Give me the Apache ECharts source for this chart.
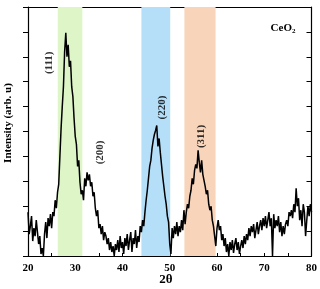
<!DOCTYPE html>
<html>
<head>
<meta charset="utf-8">
<script src="https://cdn.jsdelivr.net/npm/echarts@6/dist/echarts.min.js"></script>
<style>
  html, body { margin: 0; padding: 0; background: #fff; }
  #chart { width: 320px; height: 289px; }
</style>
</head>
<body>
<div id="chart"></div>
<script>
// XRD scan of CeO2 (intensity in arbitrary units)
const twoTheta = [
  20.00, 20.25, 20.50, 20.75, 21.00, 21.25, 21.50, 21.75, 22.00, 22.25, 22.50, 22.75,
  23.00, 23.25, 23.50, 23.75, 24.00, 24.25, 24.50, 24.75, 25.00, 25.25, 25.50, 25.75,
  26.00, 26.25, 26.50, 26.75, 27.00, 27.25, 27.50, 27.75, 28.00, 28.25, 28.50, 28.75,
  29.00, 29.25, 29.50, 29.75, 30.00, 30.25, 30.50, 30.75, 31.00, 31.25, 31.50, 31.75,
  32.00, 32.25, 32.50, 32.75, 33.00, 33.25, 33.50, 33.75, 34.00, 34.25, 34.50, 34.75,
  35.00, 35.25, 35.50, 35.75, 36.00, 36.25, 36.50, 36.75, 37.00, 37.25, 37.50, 37.75,
  38.00, 38.25, 38.50, 38.75, 39.00, 39.25, 39.50, 39.75, 40.00, 40.25, 40.50, 40.75,
  41.00, 41.25, 41.50, 41.75, 42.00, 42.25, 42.50, 42.75, 43.00, 43.25, 43.50, 43.75,
  44.00, 44.25, 44.50, 44.75, 45.00, 45.25, 45.50, 45.75, 46.00, 46.25, 46.50, 46.75,
  47.00, 47.25, 47.50, 47.75, 48.00, 48.25, 48.50, 48.75, 49.00, 49.25, 49.50, 49.75,
  50.00, 50.25, 50.50, 50.75, 51.00, 51.25, 51.50, 51.75, 52.00, 52.25, 52.50, 52.75,
  53.00, 53.25, 53.50, 53.75, 54.00, 54.25, 54.50, 54.75, 55.00, 55.25, 55.50, 55.75,
  56.00, 56.25, 56.50, 56.75, 57.00, 57.25, 57.50, 57.75, 58.00, 58.25, 58.50, 58.75,
  59.00, 59.25, 59.50, 59.75, 60.00, 60.25, 60.50, 60.75, 61.00, 61.25, 61.50, 61.75,
  62.00, 62.25, 62.50, 62.75, 63.00, 63.25, 63.50, 63.75, 64.00, 64.25, 64.50, 64.75,
  65.00, 65.25, 65.50, 65.75, 66.00, 66.25, 66.50, 66.75, 67.00, 67.25, 67.50, 67.75,
  68.00, 68.25, 68.50, 68.75, 69.00, 69.25, 69.50, 69.75, 70.00, 70.25, 70.50, 70.75,
  71.00, 71.25, 71.50, 71.75, 72.00, 72.25, 72.50, 72.75, 73.00, 73.25, 73.50, 73.75,
  74.00, 74.25, 74.50, 74.75, 75.00, 75.25, 75.50, 75.75, 76.00, 76.25, 76.50, 76.75,
  77.00, 77.25, 77.50, 77.75, 78.00, 78.25, 78.50, 78.75, 79.00, 79.25, 79.50, 79.75,
  80.00
];
const intensity = [
  44, 22, 30, 40, 15, 28, 20, 36, 24, 12, 20, 2,
  8, 0, 22, 34, 18, 38, 30, 42, 28, 44, 40, 56,
  48, 64, 72, 100, 128, 150, 170, 205, 224, 200, 212, 190,
  196, 170, 160, 138, 120, 112, 90, 96, 74, 62, 66, 56,
  78, 70, 84, 76, 82, 70, 74, 60, 64, 48, 40, 46,
  28, 32, 22, 30, 16, 24, 20, 12, 18, 6, 14, 4,
  10, 0, 12, 6, 16, 4, 20, 8, 14, 2, 18, 10,
  22, 6, 16, 24, 4, 18, 12, 26, 8, 20, 14, 30,
  24, 36, 30, 44, 56, 66, 78, 90, 96, 108, 116, 122,
  126, 131, 110, 118, 104, 92, 80, 70, 60, 52, 40, 34,
  12, 2, 28, 18, 30, 22, 34, 20, 30, 24, 36, 26,
  46, 32, 44, 52, 48, 60, 66, 78, 72, 86, 92, 88,
  106, 94, 84, 96, 82, 76, 70, 62, 66, 52, 46, 50,
  36, 30, 20, 10, 28, 36, 26, 30, 16, 22, 10, 18,
  4, 12, 0, 14, 6, 16, 3, 12, 18, 6, 14, 2,
  10, 16, 8, 20, 12, 22, 16, 28, 20, 30, 24, 32,
  18, 26, 34, 22, 30, 36, 26, 38, 30, 40, 28, 36,
  44, 30, 38, 0, 42, 28, 36, 30, 40, 24, 34, 20,
  30, 22, 32, 36, 30, 44, 40, 46, 38, 52, 44, 68,
  50, 58, 36, 46, 30, 52, 44, 20, 36, 50, 40, 52,
  44
];

// highlighted 2θ ranges around the reflections
const bandRanges = [[26.3, 31.5], [44.0, 50.1], [53.1, 59.7]];
const bandColors = ['#def5c8', '#b5dff9', '#f8d5ba'];

// Miller indices and where their labels sit (2θ, intensity)
const peakNames = ['(111)', '(200)', '(220)', '(311)'];
const peakLabelAt = [[24.4, 194], [35.3, 104], [48.3, 149], [56.7, 120]];

const xTicks = [20, 30, 40, 50, 60, 70, 80];

const FONT = '"Liberation Serif", "DejaVu Serif", serif';

const chart = echarts.init(document.getElementById('chart'), null, { renderer: 'canvas' });

chart.setOption({
  animation: false,
  backgroundColor: '#fff',
  grid: { left: 28, right: 6, top: 7, bottom: 33 },
  xAxis: [{
    type: 'value', min: 20, max: 80, interval: 5,
    axisLine: { lineStyle: { color: '#000', width: 1.2 } },
    axisTick: { inside: true, length: 3, lineStyle: { color: '#000' } },
    splitLine: { show: false },
    axisLabel: {
      margin: 7, color: '#000', fontFamily: FONT, fontWeight: 'bold', fontSize: 11,
      formatter: (v) => (xTicks.includes(v) ? String(v) : '')
    }
  }, {
    type: 'value', position: 'top', min: 20, max: 80,
    axisLine: { show: true, onZero: false, lineStyle: { color: '#000', width: 1.2 } },
    axisTick: { show: false }, axisLabel: { show: false }, splitLine: { show: false }
  }],
  yAxis: [{
    type: 'value', min: 0, max: 250, interval: 25,
    axisLine: { show: true, lineStyle: { color: '#000', width: 1.2 } },
    axisTick: { show: true, inside: false, length: 5, lineStyle: { color: '#000' } },
    axisLabel: { show: false },
    splitLine: { show: false }
  }, {
    type: 'value', position: 'right', min: 0, max: 250, interval: 25,
    axisLine: { show: true, onZero: false, lineStyle: { color: '#000', width: 1.2 } },
    axisTick: { show: true, inside: true, length: 5, lineStyle: { color: '#000' } },
    axisLabel: { show: false },
    splitLine: { show: false }
  }],
  series: [{
    type: 'line',
    data: twoTheta.map((t, i) => [t, intensity[i]]),
    showSymbol: false,
    lineStyle: { color: '#000', width: 1.5 },
    z: 3,
    markArea: {
      silent: true,
      data: bandRanges.map((r, i) => [
        { xAxis: r[0], itemStyle: { color: bandColors[i] } },
        { xAxis: r[1] }
      ])
    }
  }, {
    type: 'scatter',
    symbolSize: 0,
    z: 4,
    data: peakLabelAt.map((p, i) => ({ value: p, name: peakNames[i] })),
    label: {
      show: true, position: 'inside', rotate: 90,
      formatter: (p) => p.name,
      color: '#000', fontFamily: FONT, fontWeight: 'bold', fontSize: 11
    }
  }],
  graphic: [{
    type: 'text', x: 8, y: 123, rotation: Math.PI / 2,
    style: {
      text: 'Intensity (arb. u)', align: 'center', verticalAlign: 'middle',
      fill: '#000', font: 'bold 11px ' + FONT
    }
  }, {
    type: 'text', x: 166, y: 280,
    style: {
      text: '2θ', align: 'center', verticalAlign: 'middle',
      fill: '#000', font: 'bold 13px ' + FONT
    }
  }, {
    type: 'text', x: 283, y: 28,
    style: {
      text: '{b|CeO}{s|2}', align: 'center', verticalAlign: 'middle',
      rich: {
        b: { fill: '#000', fontFamily: FONT, fontWeight: 'bold', fontSize: 11 },
        s: { fill: '#000', fontFamily: FONT, fontWeight: 'bold', fontSize: 7, padding: [6, 0, 0, 0] }
      }
    }
  }]
});
</script>
</body>
</html>
